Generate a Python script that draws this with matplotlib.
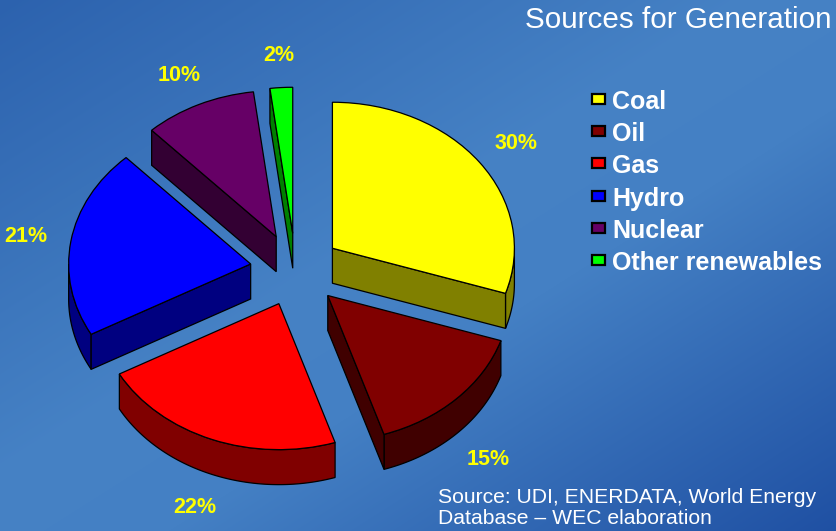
import numpy as np
import matplotlib
matplotlib.use("Agg")
import matplotlib.pyplot as plt
from matplotlib.patches import Rectangle
from matplotlib.colors import to_rgb

# ---- data ----
categories = ["Coal", "Oil", "Gas", "Hydro", "Nuclear", "Other renewables"]
shares = [30, 15, 22, 21, 10, 2]
pct_labels = ["30%", "15%", "22%", "21%", "10%", "2%"]
top_colors = ["#FFFF00", "#800000", "#FF0000", "#0000FF", "#660066", "#00FF00"]
side_colors = ["#808000", "#400000", "#800000", "#000080", "#330033", "#008000"]
title = "Sources for Generation"
source = "Source: UDI, ENERDATA, World Energy\nDatabase \u2013 WEC elaboration"

W, H = 837, 531
DPI = 100
fig = plt.figure(figsize=(W / DPI, H / DPI), dpi=DPI)

# ---- gradient background ----
bg = fig.add_axes([0, 0, 1, 1], zorder=-5)
yy, xx = np.mgrid[0:H, 0:W]
t = (xx / W + yy / H) / 2.0
stops = [0.0, 0.45, 0.6, 1.0]
cols = np.array([to_rgb(c) for c in ["#2c62ae", "#4682c5", "#4480c4", "#1f50a3"]])
img = np.zeros((H, W, 3))
for k in range(3):
    img[..., k] = np.interp(t, stops, cols[:, k])
bg.imshow(img, aspect="auto", extent=(0, W, H, 0))
bg.axis("off")

# ---- pie axes: unit circle mapped to ellipse rx x ry pixels ----
Cx, Cy, rx, ry = 295.6, 269.7, 182.0, 146.0
depth = 35.0 / ry
explode_r = 0.25

ax = fig.add_axes([0, 0, 1, 1])
ax.patch.set_alpha(0)

wedges, _ = ax.pie(shares, explode=[explode_r] * len(shares), colors=top_colors,
                   startangle=90, counterclock=False, radius=1.0,
                   wedgeprops=dict(edgecolor="black", linewidth=0.9, zorder=3))

for i, w in enumerate(wedges):
    a1, a2 = w.theta1, w.theta2
    cx, cy = w.center
    mid = np.radians((a1 + a2) / 2.0)
    side_kw = dict(facecolor=side_colors[i], edgecolor="black", linewidth=0.9, zorder=2)
    # curved outer wall (visible where sin < 0)
    for lo, hi in [(-180.0, 0.0), (180.0, 360.0)]:
        s, e = max(a1, lo), min(a2, hi)
        if e > s:
            th = np.radians(np.linspace(s, e, 120))
            xs = cx + np.cos(th)
            ys = cy + np.sin(th)
            px = np.concatenate([xs, xs[::-1]])
            py = np.concatenate([ys, (ys - depth)[::-1]])
            ax.fill(px, py, **side_kw)
    # radial walls
    for ang, visible in [(a1, np.cos(np.radians(a1)) > 1e-6),
                         (a2, np.cos(np.radians(a2)) < -1e-6)]:
        if visible:
            ex, ey = cx + np.cos(np.radians(ang)), cy + np.sin(np.radians(ang))
            ax.fill([cx, ex, ex, cx], [cy, ey, ey - depth, cy - depth], **side_kw)
    # percentage label
    lx = cx + 1.25 * np.cos(mid)
    ly = cy + 1.22 * np.sin(mid)
    if np.sin(mid) < 0:
        ly -= depth * 1.1
    ax.text(lx, ly, pct_labels[i], color="#FFFF00", fontsize=15.5, fontweight="bold",
            family="Liberation Sans", ha="center", va="center", zorder=5)

ax.set_aspect("auto")
ax.set_xlim(-Cx / rx, (W - Cx) / rx)
ax.set_ylim((Cy - H) / ry, Cy / ry)
ax.axis("off")

# ---- legend ----
def fx(p):
    return p / W

def fy(p):
    return 1 - p / H

leg_y0, leg_step = 100.0, 32.2
for i, name in enumerate(categories):
    yc = leg_y0 + i * leg_step
    fig.add_artist(Rectangle((fx(592), fy(yc + 4)), 13 / W, 10 / H, transform=fig.transFigure,
                             facecolor=top_colors[i], edgecolor="black", linewidth=1.6))
    fig.text(fx(612), fy(yc + 2), name, color="white", fontsize=18, fontweight="bold",
             family="Liberation Sans", ha="left", va="center")

fig.text(fx(832), fy(20), title, color="white", fontsize=21.3,
         family="Liberation Sans", ha="right", va="center")
fig.text(fx(438), fy(508), source, color="white", fontsize=15.2,
         family="Liberation Sans", ha="left", va="center", linespacing=1.12)

fig.savefig("out.png", dpi=DPI)
